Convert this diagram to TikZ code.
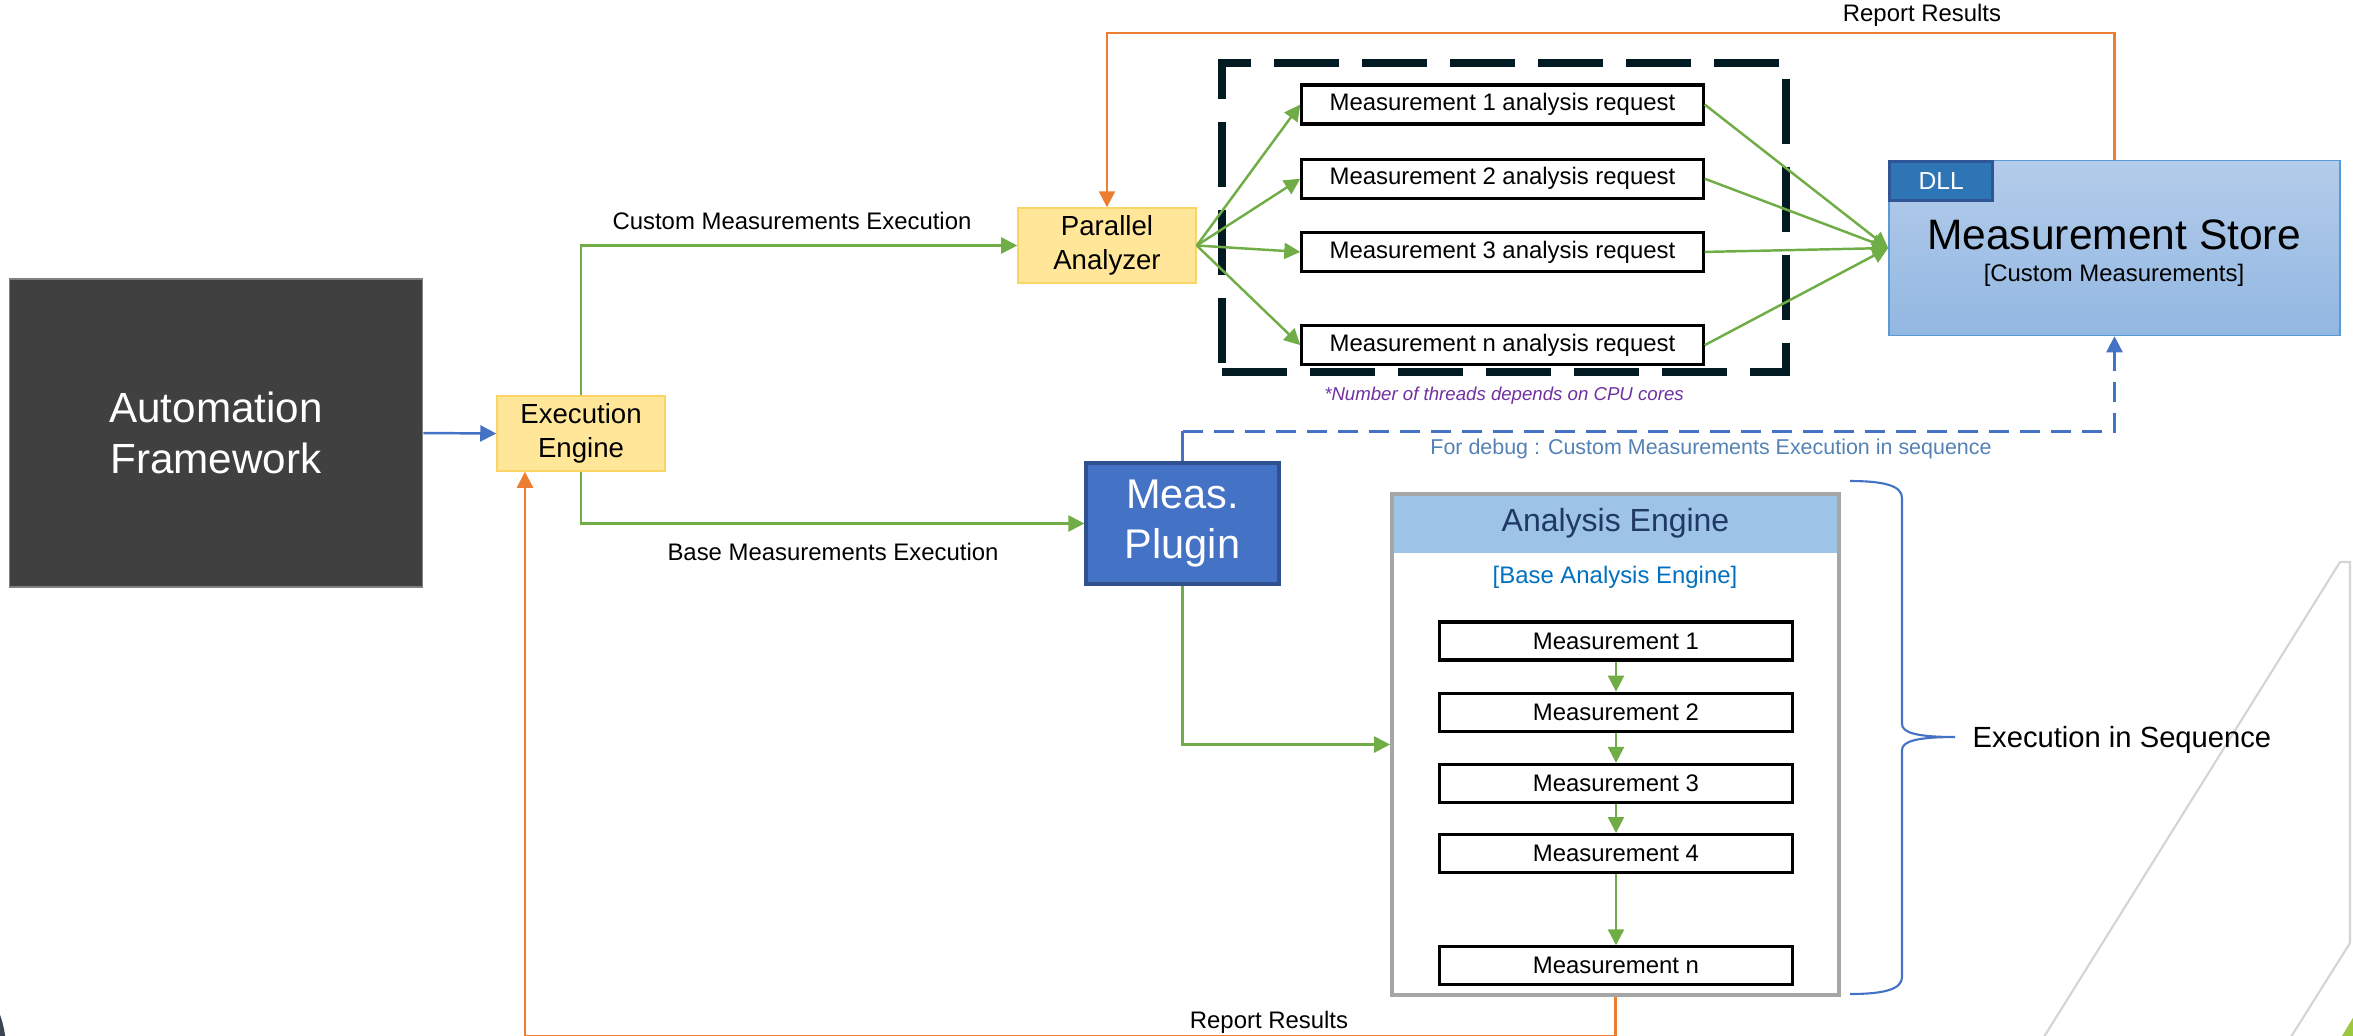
\documentclass[tikz,border=0pt]{standalone}
\usepackage{fontspec}
\setmainfont{Liberation Sans}
\usepackage{xcolor}
\usepackage{tikz}
\usetikzlibrary{arrows.meta,positioning,calc}

\definecolor{framegray}{RGB}{64,64,64}
\definecolor{flowgreen}{RGB}{112,173,71}
\definecolor{reportorange}{RGB}{237,125,49}
\definecolor{linkblue}{RGB}{68,114,196}
\definecolor{enginefill}{RGB}{255,230,153}
\definecolor{engineline}{RGB}{250,212,100}
\definecolor{plugline}{RGB}{47,82,143}
\definecolor{storetop}{RGB}{180,204,234}
\definecolor{storebottom}{RGB}{146,183,226}
\definecolor{storeline}{RGB}{91,155,213}
\definecolor{dllfill}{RGB}{46,117,182}
\definecolor{dllline}{RGB}{47,85,151}
\definecolor{headfill}{RGB}{157,195,230}
\definecolor{headtext}{RGB}{31,56,100}
\definecolor{basetext}{RGB}{0,112,192}
\definecolor{debugtext}{RGB}{84,130,180}
\definecolor{notepurple}{RGB}{112,48,160}
\definecolor{poolline}{RGB}{2,26,34}
\definecolor{boxgray}{RGB}{166,166,166}
\definecolor{decogray}{RGB}{212,212,212}
\definecolor{decogreen}{RGB}{155,200,60}
\definecolor{cornerdark}{RGB}{59,69,80}

\begin{document}
\begin{tikzpicture}[
  x=0.01cm, y=-0.01cm,
  >={Triangle[length=0.16cm,width=0.16cm]},
  every node/.style={font=\fontsize{6.8}{8.2}\selectfont, inner sep=0pt},
  dark/.style={rectangle, draw=gray, fill=framegray, text=white, align=center, minimum width=4.13cm, minimum height=3.08cm, font=\fontsize{12}{14.5}\selectfont},
  engine/.style={rectangle, draw=engineline, fill=enginefill, align=center, minimum width=1.68cm, minimum height=0.75cm, font=\fontsize{7.85}{9.6}\selectfont},
  plugin/.style={rectangle, draw=plugline, line width=0.9pt, fill=linkblue, text=white, align=center, minimum width=1.93cm, minimum height=1.21cm, font=\fontsize{11.8}{14.2}\selectfont},
  pool/.style={rectangle, draw=poolline, line width=0.08cm, dash pattern=on 0.65cm off 0.23cm, minimum width=5.64cm, minimum height=3.09cm},
  request/.style={rectangle, draw, line width=0.9pt, fill=white, minimum width=4.01cm, minimum height=0.39cm},
  store/.style={rectangle, draw=storeline, top color=storetop, bottom color=storebottom, minimum width=4.51cm, minimum height=1.75cm},
  dll/.style={rectangle, draw=dllline, line width=0.9pt, fill=dllfill, text=white, anchor=north west, minimum width=1.03cm, minimum height=0.39cm, font=\fontsize{7}{8.4}\selectfont},
  head/.style={rectangle, fill=headfill, text=headtext, minimum width=4.47cm, minimum height=0.59cm, font=\fontsize{9.1}{11}\selectfont},
  container/.style={rectangle, draw=boxgray, line width=1pt, minimum width=4.47cm, minimum height=5.01cm},
  meas/.style={rectangle, draw, line width=0.9pt, fill=white, minimum width=3.52cm, minimum height=0.38cm},
  linkline/.style={draw=linkblue, line width=0.7pt},
  link/.style={linkline, ->},
  flow/.style={->, draw=flowgreen, line width=0.7pt},
  report/.style={->, draw=reportorange, line width=0.7pt},
  debug/.style={->, draw=linkblue, line width=0.7pt, dash pattern=on 0.2cm off 0.11cm},
  brace/.style={draw=linkblue, line width=0.6pt}
]
  \useasboundingbox (0,0) rectangle (2353,1035);

  \fill[cornerdark] (-100,1050) circle (1.06cm);
  \draw[decogray, line width=0.6pt] (2042,1040) -- (2340,562) -- (2350,562) -- (2350,943) -- (2289,1040);
  \fill[decogreen] (2342,1036) -- (2354,1016) -- (2354,1036) -- cycle;

  \node[dark] (auto) at (216,433) {Automation\\Framework};
  \node[engine] (exec) at (581,433.5) {Execution\\Engine};
  \node[engine, minimum width=1.78cm] (par) at (1107,245.5) {Parallel\\Analyzer};

  \node[pool] (pool) at (1504,217.5) {};
  \node[request] (req1) at (1502.5,104.5) {Measurement 1 analysis request};
  \node[request, below=0.32cm of req1] (req2) {Measurement 2 analysis request};
  \node[request, below=0.31cm of req2] (req3) {Measurement 3 analysis request};
  \node[request, below=0.51cm of req3] (reqn) {Measurement n analysis request};
  \node[text=notepurple, font=\fontsize{5.3}{6.4}\selectfont\itshape] (note) at (1504,396) {*Number of threads depends on CPU cores};

  \node[store] (store) at (2114.5,248) {};
  \node[dll] (dll) at (store.north west) {DLL};
  \node[font=\fontsize{12.1}{14.5}\selectfont] (storename) at (2114,235) {Measurement Store};
  \node (storesub) at (2114,275) {[Custom Measurements]};

  \node[plugin] (plug) at (1182.5,523.5) {Meas.\\Plugin};

  \node[head] (aehead) at (1615.5,523.5) {Analysis Engine};
  \node[container] (ae) at (1615.5,744.5) {};
  \node[text=basetext] (aebase) at (1615,577) {[Base Analysis Engine]};
  \node[meas] (m1) at (1616,641) {Measurement 1};
  \node[meas, below=0.3cm of m1] (m2) {Measurement 2};
  \node[meas, below=0.3cm of m2] (m3) {Measurement 3};
  \node[meas, below=0.29cm of m3] (m4) {Measurement 4};
  \node[meas, below=0.71cm of m4] (mn) {Measurement n};

  \node (custlbl) at (792,221) {Custom Measurements Execution};
  \node (baselbl) at (833,552) {Base Measurements Execution};
  \node (toprep) at (1922,15) {Report Results};
  \node (botrep) at (1269,1022) {Report Results};
  \node[text=debugtext, font=\fontsize{6.1}{7.3}\selectfont] (dbglbl) at (1711,449) {For debug : Custom Measurements Execution in sequence};
  \node[anchor=west, font=\fontsize{8.3}{10}\selectfont] (seqlbl) at (1972,740) {Execution in Sequence};

  \draw[link] (auto.east) -- (exec.west);
  \draw[flow] (exec.north) |- (par.west);
  \draw[flow] (exec.south) |- (plug.west);
  \draw[flow] (par.east) -- (req1.west);
  \draw[flow] (par.east) -- (req2.west);
  \draw[flow] (par.east) -- (req3.west);
  \draw[flow] (par.east) -- (reqn.west);
  \draw[flow] (req1.east) -- (store.west);
  \draw[flow] (req2.east) -- (store.west);
  \draw[flow] (req3.east) -- (store.west);
  \draw[flow] (reqn.east) -- (store.west);
  \draw[flow] (plug.south) |- (ae.west);
  \draw[flow] (m1) -- (m2);
  \draw[flow] (m2) -- (m3);
  \draw[flow] (m3) -- (m4);
  \draw[flow] (m4) -- (mn);
  \draw[report] (store.north) -- ++(0,-127) -| (par.north);
  \draw[report] (ae.south) -- ++(0,39) -| ([xshift=-0.56cm]exec.south);
  \draw[linkline] (plug.north) -- ++(0,-30) coordinate (dbg);
  \draw[debug] (dbg) -| (store.south);

  \draw[brace] (1850,481) .. controls (1885,481) and (1902,486) .. (1902,498)
    -- (1902,724) .. controls (1902,733) and (1918,737) .. (1955,737)
    .. controls (1918,737) and (1902,741) .. (1902,750)
    -- (1902,977) .. controls (1902,989) and (1885,994) .. (1850,994);
\end{tikzpicture}
\end{document}
